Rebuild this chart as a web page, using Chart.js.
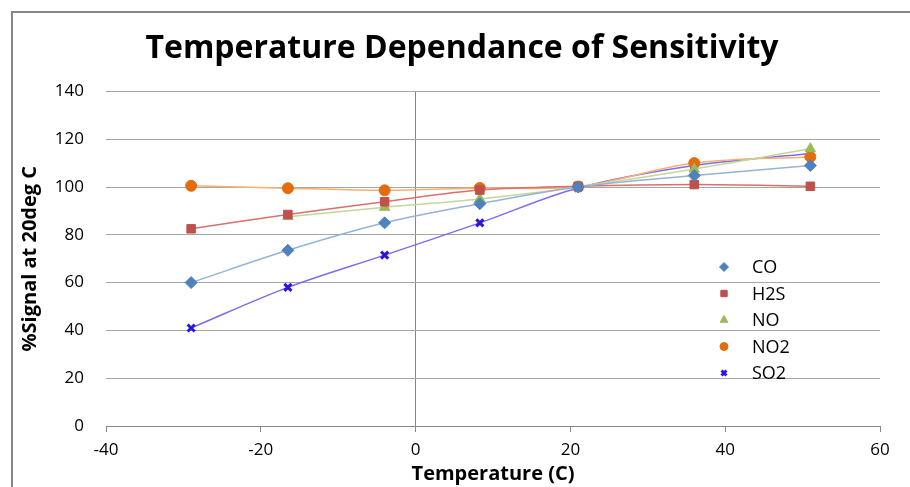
<!DOCTYPE html>
<html>
<head>
<meta charset="utf-8">
<script src="https://cdn.jsdelivr.net/npm/chart.js@4.4.0/dist/chart.umd.min.js"></script>
<style>
  html, body { margin: 0; padding: 0; background: #fff; }
  #wrap { width: 910px; height: 487px; position: relative; }
</style>
</head>
<body>
<div id="wrap"><canvas id="sensChart" width="910" height="487"></canvas></div>
<script>
// temperatures (C) of the measurements
const tempsAll = [-29, -16.5, -4, 8.3, 21, 36, 51];
const tempsNO = [-16.5, -4, 8.3, 21, 36, 51];

// % signal relative to 20 deg C
const coVals  = [60, 73.5, 85, 93, 100, 104.8, 109];
const h2sVals = [82.5, 88.5, 93.8, 98.7, 100.3, 101, 100.3];
const noVals  = [87.6, 91.5, 95, 100, 107.5, 116];
const no2Vals = [100.5, 99.5, 98.6, 99.6, 100.2, 110, 112.6];
const so2Vals = [41, 58, 71.5, 85, 99.6, 109, 114];

const xTicks = [-40, -20, 0, 20, 40, 60];
const yTicks = [0, 20, 40, 60, 80, 100, 120, 140];

const FONT = "'Open Sans', 'DejaVu Sans', sans-serif";

function pts(xs, ys) {
  return ys.map((y, i) => ({ x: xs[i], y: y }));
}

function series(label, xs, ys, marker, line, style, radius, bw) {
  return {
    label: label,
    data: pts(xs, ys),
    borderColor: line,
    backgroundColor: marker,
    pointBackgroundColor: marker,
    pointBorderColor: marker,
    pointStyle: style,
    pointRadius: radius,
    pointBorderWidth: bw,
    borderWidth: 1.5,
    tension: 0.35,
    showLine: true,
    fill: false
  };
}

// legend drawn inside the plot area, like the Excel original
const innerLegend = {
  id: "innerLegend",
  afterDraw(chart) {
    const ctx = chart.ctx;
    const x0 = 724, textX = 752;
    let y = 267;
    chart.data.datasets.forEach(ds => {
      ctx.save();
      ctx.fillStyle = ds.pointBackgroundColor;
      ctx.strokeStyle = ds.pointBorderColor;
      ctx.lineWidth = ds.pointBorderWidth;
      Chart.helpers.drawPoint(ctx, {
        pointStyle: ds.pointStyle,
        radius: ds.pointRadius - 1.5,
        borderWidth: ds.pointBorderWidth
      }, x0, y);
      ctx.fillStyle = "#000";
      ctx.font = "18px " + FONT;
      ctx.textBaseline = "middle";
      ctx.textAlign = "left";
      ctx.fillText(ds.label, textX, y + 1);
      ctx.restore();
      y += 26.5;
    });
  }
};

const frame = {
  id: "frame",
  afterDraw(chart) {
    const ctx = chart.ctx;
    ctx.save();
    ctx.strokeStyle = "#868686";
    ctx.lineWidth = 2;
    ctx.strokeRect(12, 12, 920, 500);
    ctx.restore();
  }
};

new Chart(document.getElementById("sensChart").getContext("2d"), {
  type: "scatter",
  data: {
    datasets: [
      series("CO", tempsAll, coVals, "#4F81BD", "#95B3D7", "rectRot", 6, 1),
      series("H2S", tempsAll, h2sVals, "#C0504D", "#D9706D", "rect", 6, 1),
      series("NO", tempsNO, noVals, "#9BBB59", "#C3D69B", "triangle", 6, 1),
      series("NO2", tempsAll, no2Vals, "#E46C0A", "#F9AE6E", "circle", 5.5, 1),
      series("SO2", tempsAll, so2Vals, "#2B15E6", "#7C6CF0", "crossRot", 5, 3)
    ]
  },
  options: {
    responsive: false,
    animation: false,
    layout: { padding: { left: 14, right: 0, top: 0, bottom: 0 } },
    plugins: {
      legend: { display: false },
      tooltip: { enabled: false },
      title: {
        display: true,
        text: "Temperature Dependance of Sensitivity",
        color: "#000",
        font: { family: FONT, size: 32, weight: "bold" },
        padding: { top: 30, bottom: 23 }
      }
    },
    scales: {
      x: {
        type: "linear",
        min: -40, max: 60,
        afterBuildTicks: s => { s.ticks = xTicks.map(v => ({ value: v })); },
        afterFit: s => { s.height = 61; },
        border: { display: true, color: "#868686", width: 1 },
        grid: {
          color: c => (c.tick && c.tick.value === 0 ? "#868686" : "rgba(0,0,0,0)"),
          tickColor: "#868686",
          tickLength: 6,
          lineWidth: 1
        },
        ticks: { color: "#000", font: { family: FONT, size: 17 }, padding: 8 },
        title: {
          display: true,
          text: "Temperature (C)",
          color: "#000",
          font: { family: FONT, size: 20, weight: "bold" },
          padding: { top: 0, bottom: 1 }
        }
      },
      y: {
        type: "linear",
        min: 0, max: 140,
        afterBuildTicks: s => { s.ticks = yTicks.map(v => ({ value: v })); },
        afterFit: s => { s.width = 92; },
        border: { display: false },
        grid: { color: "#A6A6A6", lineWidth: 1, drawTicks: false },
        ticks: { color: "#000", font: { family: FONT, size: 17 }, padding: 22 },
        title: {
          display: true,
          text: "%Signal at 20deg C",
          color: "#000",
          font: { family: FONT, size: 20, weight: "bold" },
          padding: { top: 4, bottom: 0 }
        }
      },
      // empty right-hand strip so the plot stops at 60 like the original
      yRight: {
        position: "right",
        display: true,
        afterFit: s => { s.width = 30; },
        border: { display: false },
        grid: { display: false, drawOnChartArea: false },
        ticks: { display: false }
      }
    }
  },
  plugins: [innerLegend, frame]
});
</script>
</body>
</html>
